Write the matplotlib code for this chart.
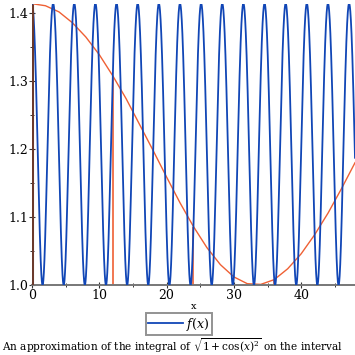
import numpy as np
import matplotlib
matplotlib.use('Agg')
import matplotlib.pyplot as plt
from matplotlib.ticker import MultipleLocator

# the plotted function, as named in the caption: f(x) = sqrt(1 + cos(x)^2)
x_min, x_max = 0, 48
blue_x = np.linspace(x_min, x_max, 4000)
blue_y = np.sqrt(1 + np.cos(blue_x)**2)

# slow orange curve
orange_x = [0, 2, 4, 6, 8, 10, 12, 14, 16, 18, 20, 22, 24,
            26, 28, 30, 32, 34, 36, 38, 40, 42, 44, 46, 48]
orange_y = [1.414, 1.411, 1.402, 1.386, 1.365, 1.339, 1.308, 1.274, 1.236,
            1.198, 1.159, 1.121, 1.086, 1.055, 1.030, 1.012, 1.002, 1.001,
            1.008, 1.024, 1.046, 1.074, 1.106, 1.142, 1.180]

# vertical orange edges
edge_x = [12, 24, 36]
edge_top = [1.308, 1.086, 1.008]

x_ticks = [0, 10, 20, 30, 40]
y_ticks = [1.0, 1.1, 1.2, 1.3, 1.4]

blue = '#1146b6'
orange = '#ef6034'
brown = '#6b3a2c'
gray = '#777777'

plt.rcParams['font.family'] = 'DejaVu Serif'
plt.rcParams['mathtext.fontset'] = 'dejavuserif'

fig = plt.figure(figsize=(3.55, 3.55), dpi=100)
ax = fig.add_axes([0.0901, 0.197, 0.9099, 0.793])

ax.plot(blue_x, blue_y, color=blue, lw=1.3, label='$f(x)$', zorder=3)
ax.plot(orange_x, orange_y, color=orange, lw=1.0, zorder=2)
ax.vlines(edge_x, 1.0, edge_top, color=orange, lw=1.2, zorder=2)
ax.vlines([0], 1.0, np.sqrt(2), color=brown, lw=2.2, zorder=4)

ax.set_xlim(x_min, x_max)
ax.set_ylim(1.0, np.sqrt(2))
ax.set_xticks(x_ticks)
ax.set_yticks(y_ticks)
ax.xaxis.set_minor_locator(MultipleLocator(5))
ax.yaxis.set_minor_locator(MultipleLocator(0.05))
ax.tick_params(which='major', direction='inout', length=4, width=0.8,
               color='#333333', labelsize=9, pad=1)
ax.tick_params(which='minor', direction='inout', length=2.5, width=0.7,
               color='#333333')

for s in ['top', 'right', 'left']:
    ax.spines[s].set_visible(False)
ax.spines['bottom'].set_color(gray)
ax.spines['bottom'].set_linewidth(1.4)

ax.set_xlabel('x', fontsize=7, labelpad=0)

leg = ax.legend(loc='upper center', bbox_to_anchor=(0.454, -0.1),
                frameon=True, fancybox=False, fontsize=9, handlelength=2.8,
                borderpad=0.2, handletextpad=0.2, borderaxespad=0)
leg.get_frame().set_edgecolor(gray)
leg.get_frame().set_linewidth(1.4)

fig.text(0.005, 0.0,
         r'An approximation of the integral of $\sqrt{1+\cos(x)^2}$ on the interval',
         fontsize=7.6, ha='left', va='bottom')

fig.savefig('out.png', dpi=100)
